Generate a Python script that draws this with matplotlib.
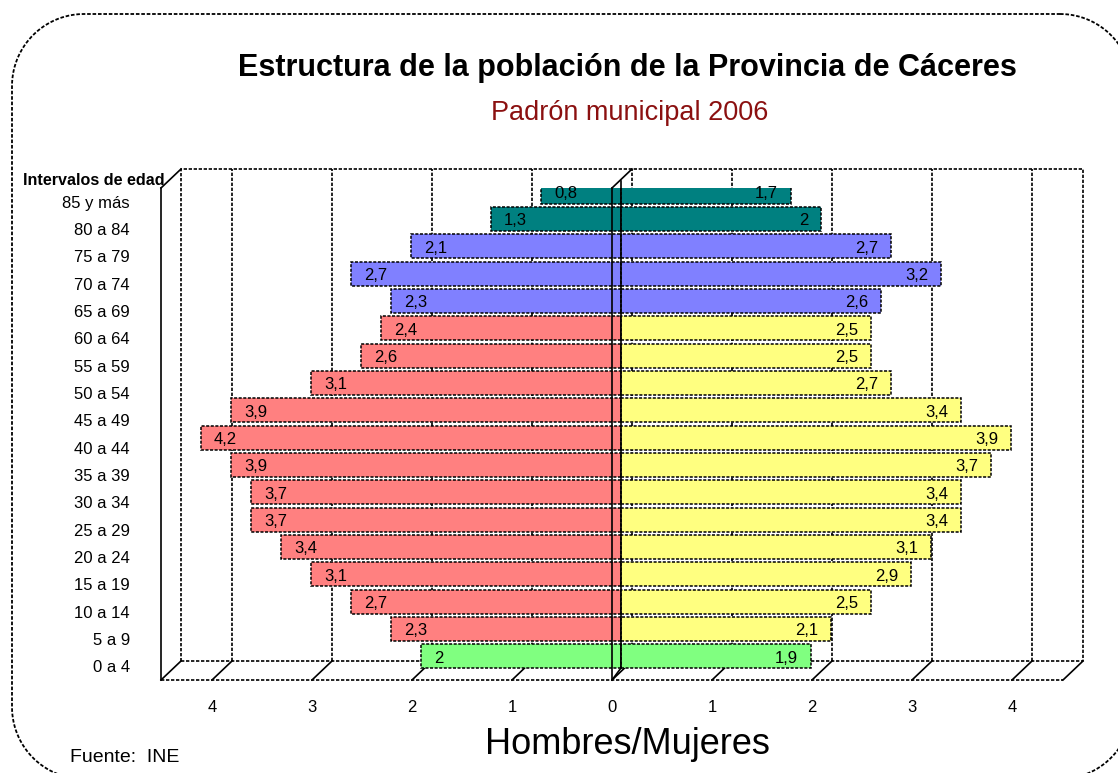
import matplotlib
matplotlib.use('Agg')
import numpy as np
import matplotlib.pyplot as plt

plt.rcParams['font.family'] = ['Liberation Sans', 'DejaVu Sans']

# age groups from bottom (0 a 4) to top (85 y más)
grupos = ['0 a 4', '5 a 9', '10 a 14', '15 a 19', '20 a 24', '25 a 29', '30 a 34',
          '35 a 39', '40 a 44', '45 a 49', '50 a 54', '55 a 59', '60 a 64',
          '65 a 69', '70 a 74', '75 a 79', '80 a 84', '85 y más']
hombres = [2, 2.3, 2.7, 3.1, 3.4, 3.7, 3.7, 3.9, 4.2, 3.9, 3.1, 2.6, 2.4, 2.3, 2.7, 2.1, 1.3, 0.8]
mujeres = [1.9, 2.1, 2.5, 2.9, 3.1, 3.4, 3.4, 3.7, 3.9, 3.4, 2.7, 2.5, 2.5, 2.6, 3.2, 2.7, 2, 1.7]
tick_vals = [-4, -3, -2, -1, 0, 1, 2, 3, 4]

# colours per group
col_h, col_m = [], []
for i in range(len(grupos)):
    if i == 0:
        col_h.append('#80ff80'); col_m.append('#80ff80')
    elif i <= 12:
        col_h.append('#ff8080'); col_m.append('#ffff80')
    elif i <= 15:
        col_h.append('#8080ff'); col_m.append('#8080ff')
    else:
        col_h.append('#008080'); col_m.append('#008080')

W, H = 1118, 773
fig = plt.figure(figsize=(W / 100, H / 100), dpi=100)

# background layer in pixel units, for the rounded border
bg = fig.add_axes([0, 0, 1, 1], zorder=0)
bg.set_xlim(0, W)
bg.set_ylim(H, 0)
bg.axis('off')

def rounded_box(l, t, r, b, rad, n=30):
    px, py = [], []
    corners = [(r - rad, t + rad, -90, 0), (r - rad, b - rad, 0, 90),
               (l + rad, b - rad, 90, 180), (l + rad, t + rad, 180, 270)]
    for cx, cy, a0, a1 in corners:
        a = np.radians(np.linspace(a0, a1, n))
        px.extend(cx + rad * np.cos(a))
        py.extend(cy + rad * np.sin(a))
    px.append(px[0]); py.append(py[0])
    return px, py

bx, by = rounded_box(12, 14, 1132, 779, 72)
bg.plot(bx, by, color='black', linewidth=1.3, linestyle=(0, (2, 1)), clip_on=False)

# main plot area = front plane of the 3D box
ax = fig.add_axes([161 / W, (H - 680) / H, 902 / W, 492 / H], zorder=1)
ax.set_xlim(-4.51, 4.51)
ax.set_ylim(-0.5, 17.5)
ax.axis('off')
ax.patch.set_alpha(0)

BX, BY = 0.2, 0.695   # depth offset front -> back
DX, DY = 0.09, 0.37   # bars sit in the middle of the depth
x0, x1, y0, y1 = -4.51, 4.51, -0.5, 17.5
DOT = (0, (2, 1))
kw = dict(color='black', linewidth=1.2, clip_on=False)

# back wall
ax.plot([x0 + BX, x1 + BX, x1 + BX, x0 + BX, x0 + BX],
        [y0 + BY, y0 + BY, y1 + BY, y1 + BY, y0 + BY], linestyle=DOT, zorder=1, **kw)
for t in tick_vals:
    ax.plot([t + BX, t + BX], [y0 + BY, y1 + BY], linestyle=DOT, zorder=1, **kw)
    # floor diagonals
    ax.plot([t, t + BX], [y0, y0 + BY], zorder=1, **kw)
# floor
ax.plot([x0, x1], [y0, y0], linestyle=DOT, zorder=1, **kw)
ax.plot([x0, x0 + BX], [y0, y0 + BY], zorder=1, **kw)
ax.plot([x1, x1 + BX], [y0, y0 + BY], zorder=1, **kw)
# left wall
ax.plot([x0, x0], [y0, y1], zorder=3, **kw)
ax.plot([x0, x0 + BX], [y1, y1 + BY], zorder=3, **kw)

# bars
ypos = [i + DY for i in range(len(grupos))]
ax.barh(ypos, [-h for h in hombres], left=DX, height=0.88, color=col_h,
        edgecolor='black', linewidth=1.1, linestyle=DOT, zorder=2)
ax.barh(ypos, mujeres, left=DX, height=0.88, color=col_m,
        edgecolor='black', linewidth=1.1, linestyle=DOT, zorder=2)

# zero lines
ax.plot([0, 0], [y0, y1], zorder=3, **kw)
ax.plot([0, BX], [y1, y1 + BY], zorder=3, **kw)
ax.plot([DX, DX], [y0 + 0.44, y1 + 0.25], zorder=3, **kw)
ax.plot([0, DX], [y0, y0 + 0.44], zorder=3, **kw)

fmt = lambda v: f'{v:g}'.replace('.', ',')
for i, (h, m) in enumerate(zip(hombres, mujeres)):
    ax.text(DX - h + 0.13, ypos[i] - 0.07, fmt(h), ha='left', va='center', fontsize=12, zorder=4)
    ax.text(DX + m - 0.13, ypos[i] - 0.07, fmt(m), ha='right', va='center', fontsize=12, zorder=4)

# category labels
for i, g in enumerate(grupos):
    ax.text(x0 - 0.31, i - 0.05, g, ha='right', va='center', fontsize=12)
ax.text(x0 + 0.04, y1 + 0.29, 'Intervalos de edad', ha='right', va='center',
        fontsize=11.6, fontweight='bold')

# x tick labels
for t in tick_vals:
    ax.text(t, y0 - 0.99, str(abs(t)), ha='center', va='center', fontsize=12)

fig.text(627 / W, 1 - 68 / H, 'Estructura de la población de la Provincia de Cáceres',
         ha='center', va='center', fontsize=22, fontweight='bold')
fig.text(630 / W, 1 - 113 / H, 'Padrón municipal 2006', ha='center', va='center',
         fontsize=19.5, color='#8b1010')
fig.text(627 / W, 1 - 745 / H, 'Hombres/Mujeres', ha='center', va='center', fontsize=26)
fig.text(70 / W, 1 - 758 / H, 'Fuente:  INE', ha='left', va='center', fontsize=14)

fig.savefig('out.png', dpi=100)
